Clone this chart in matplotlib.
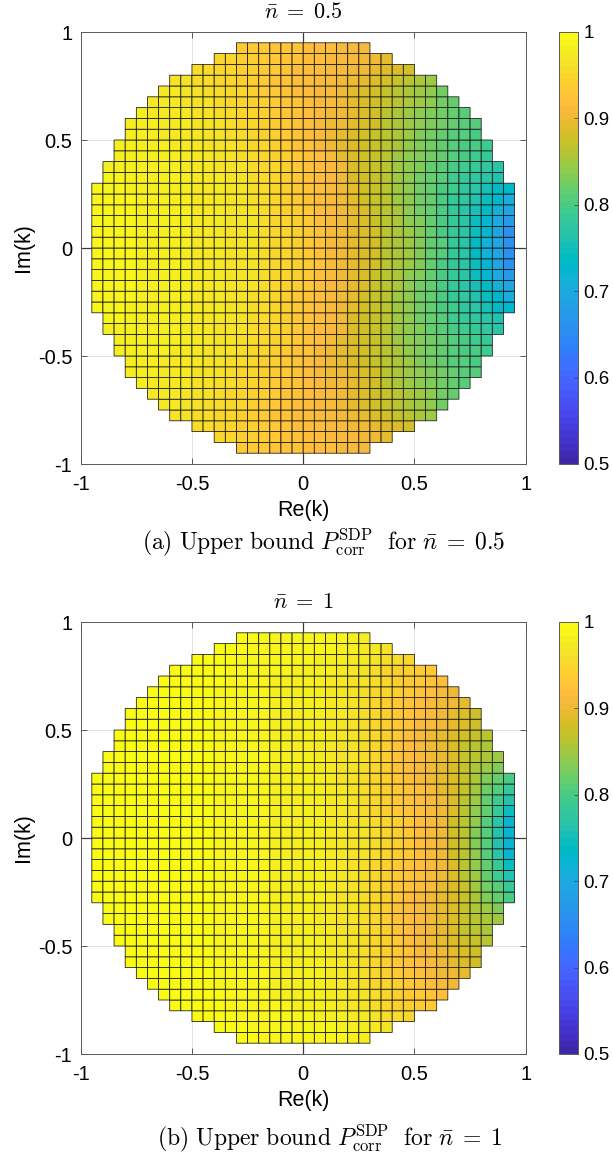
import numpy as np
import matplotlib.pyplot as plt
from matplotlib.colors import ListedColormap

plt.rcParams['font.family'] = ['Liberation Sans', 'DejaVu Sans']
plt.rcParams['mathtext.fontset'] = 'cm'

# cell edges of the Re(k) / Im(k) grid (step 0.05)
k_edges = np.round(np.linspace(-0.95, 0.95, 39), 2)

axis_ticks = [-1, -0.5, 0, 0.5, 1]
axis_ticklabels = ['-1', '-0.5', '0', '0.5', '1']
cbar_ticks = [0.5, 0.6, 0.7, 0.8, 0.9, 1]
cbar_ticklabels = ['0.5', '0.6', '0.7', '0.8', '0.9', '1']

titles = [r'$\bar{n}\;=\;0.5$', r'$\bar{n}\;=\;1$']
captions = [r'$\mathrm{(a)\ Upper\ bound\ }P_{\mathrm{corr}}^{\mathrm{SDP}}\mathrm{\ \ for\ }\bar{n}\;=\;0.5$',
            r'$\mathrm{(b)\ Upper\ bound\ }P_{\mathrm{corr}}^{\mathrm{SDP}}\mathrm{\ \ for\ }\bar{n}\;=\;1$']

# P_corr^SDP per visible cell, in thousandths, left to right.
# rows from Im(k) cell [0.9, 0.95] down to [0, 0.05]; the lower half of the
# picture repeats these rows mirrored about Im(k) = 0
nbar_half_top = [
    "937 934 931 928 925 922 920 918 916 914 912 910",
    "950 947 943 939 934 930 926 922 919 916 914 911 908 905 900 896",
    "958 955 952 948 944 940 935 930 925 921 918 915 912 908 904 899 894 889 883 878",
    "965 962 959 956 952 948 944 939 934 928 923 919 916 913 909 904 899 893 886 878 870 862 855 848",
    "972 969 966 963 959 955 951 947 942 937 931 925 920 916 912 907 901 894 887 878 869 861 853 845 837 828",
    "975 973 970 967 964 961 957 953 949 944 939 933 927 922 917 912 907 900 893 886 877 868 860 852 844 836 828 820",
    "977 976 974 972 969 966 963 959 955 951 946 941 935 929 923 918 912 906 900 892 885 876 867 858 849 840 831 824 818 812",
    "979 978 977 975 973 970 967 964 961 957 953 948 943 937 931 925 919 912 906 899 891 883 875 866 856 847 838 829 821 815 810 805",
    "980 979 978 976 974 972 969 966 963 959 955 950 945 939 933 927 920 913 906 898 890 882 873 864 855 845 835 826 818 812 806 801",
    "982 981 980 979 977 975 973 971 968 965 961 957 952 947 942 936 929 922 914 906 898 890 881 872 863 853 843 833 823 815 809 803 797 791",
    "983 982 981 980 978 977 975 972 970 967 963 959 955 950 944 938 931 923 915 907 898 889 880 871 861 851 841 831 822 814 807 800 794 787",
    "984 984 983 982 981 979 978 976 974 971 968 965 961 957 952 946 940 933 925 916 908 899 889 880 870 860 850 840 829 819 810 801 793 786 777 767",
    "985 985 984 983 982 980 979 977 975 972 969 966 962 958 954 948 942 935 927 918 909 900 890 880 870 860 850 839 828 817 806 796 787 779 771 760",
    "986 986 985 984 983 982 981 979 977 975 973 970 967 963 959 955 950 943 936 928 919 910 900 891 881 871 861 850 839 827 815 803 791 779 767 755 742 728",
    "986 986 986 985 984 983 981 980 978 976 973 971 968 964 960 956 951 944 937 929 920 911 901 891 881 872 862 851 840 827 814 801 788 775 762 749 730 708",
    "987 986 986 985 984 983 982 980 978 976 974 971 968 965 961 957 951 945 938 931 921 912 902 893 883 873 863 852 841 828 815 800 785 769 752 736 715 690",
    "987 986 986 985 984 983 982 980 978 976 974 971 968 965 961 957 952 946 939 932 921 912 903 894 884 874 864 854 843 830 816 801 785 766 746 726 703 675",
    "987 987 986 985 984 983 982 980 978 976 974 971 968 965 961 957 952 946 940 933 922 913 904 895 885 875 865 855 844 831 817 803 787 766 743 720 695 662",
    "987 987 986 985 984 983 982 980 978 976 974 971 968 965 961 957 952 946 940 933 922 913 904 895 885 876 866 856 845 832 819 805 789 766 741 716 689 657",
]

nbar_one_top = [
    "993 993 992 992 991 991 990 989 988 986 983 980",
    "994 993 993 992 991 990 989 988 987 986 985 983 978 975 969 965",
    "995 994 994 993 992 991 990 988 987 986 985 984 982 977 974 970 965 960 955 950",
    "995 995 994 994 993 992 991 990 988 986 985 984 983 981 978 974 969 963 957 951 945 940 935 930",
    "996 995 995 994 993 993 992 990 988 986 984 983 982 981 979 976 972 967 961 955 948 942 936 930 924 918",
    "996 996 995 995 994 993 992 991 989 987 985 983 982 981 980 978 975 971 966 960 953 946 939 932 925 918 912 905",
    "997 996 996 995 995 994 993 992 991 989 987 985 983 981 980 979 977 974 970 965 959 952 945 937 929 921 913 906 899 893",
    "997 997 996 996 995 995 994 993 992 991 989 987 985 983 981 980 979 977 974 970 965 959 952 944 935 926 918 911 904 897 890 882",
    "997 997 996 996 995 995 994 993 992 991 989 987 985 983 981 980 979 977 974 970 964 958 951 942 932 922 914 907 899 891 884 876",
    "997 997 997 996 996 995 995 994 993 992 991 989 987 985 983 981 980 979 977 973 969 964 957 950 940 930 918 911 903 895 887 879 872 866",
    "997 997 997 996 996 995 995 994 993 992 991 989 987 985 983 981 980 979 976 972 967 962 956 949 939 928 917 910 902 893 883 874 866 858",
    "997 997 997 997 996 996 995 995 994 993 992 991 989 987 985 983 981 980 979 976 972 967 962 955 948 938 927 917 911 903 894 884 873 862 853 846",
    "997 997 997 997 996 996 995 995 994 993 992 991 989 987 985 983 981 980 979 976 972 967 962 956 948 939 929 918 912 904 895 884 871 857 845 832",
    "997 997 997 997 997 996 996 995 995 994 993 992 991 989 987 985 983 982 981 979 977 973 968 963 957 950 941 932 921 914 906 897 885 870 852 832 815 800",
    "997 997 997 997 997 996 996 995 995 994 993 992 991 989 987 985 983 982 981 979 977 974 969 964 958 951 943 935 924 915 907 898 885 868 848 826 806 784",
    "997 997 997 997 997 996 996 995 995 994 993 992 991 989 987 985 983 982 981 979 977 974 970 965 959 952 944 936 926 916 908 899 884 866 844 820 792 760",
    "997 997 997 997 997 996 996 995 995 994 993 992 991 989 987 985 983 982 981 980 978 975 971 966 960 953 945 937 928 917 909 899 883 864 840 815 782 745",
    "997 997 997 997 997 996 996 995 995 994 993 992 991 989 987 985 983 982 981 980 978 975 971 967 962 956 950 943 932 918 910 900 882 862 837 808 770 726",
    "997 997 997 997 997 996 996 995 995 994 993 992 991 989 987 985 983 982 981 980 978 975 971 967 962 957 951 944 932 918 910 900 881 860 835 805 765 720",
]

# MATLAB parula, 64 levels
parula = ListedColormap([
    [0.2422, 0.1504, 0.6603], [0.2504, 0.1650, 0.7076], [0.2578, 0.1818, 0.7511], [0.2647, 0.1978, 0.7952],
    [0.2706, 0.2147, 0.8364], [0.2751, 0.2342, 0.8710], [0.2783, 0.2559, 0.8991], [0.2803, 0.2782, 0.9221],
    [0.2813, 0.3006, 0.9414], [0.2810, 0.3228, 0.9579], [0.2795, 0.3447, 0.9717], [0.2760, 0.3667, 0.9829],
    [0.2699, 0.3892, 0.9906], [0.2602, 0.4123, 0.9952], [0.2440, 0.4358, 0.9988], [0.2206, 0.4603, 0.9973],
    [0.1963, 0.4847, 0.9892], [0.1834, 0.5074, 0.9798], [0.1786, 0.5289, 0.9682], [0.1764, 0.5499, 0.9520],
    [0.1687, 0.5703, 0.9359], [0.1540, 0.5902, 0.9218], [0.1460, 0.6091, 0.9079], [0.1380, 0.6276, 0.8973],
    [0.1248, 0.6459, 0.8883], [0.1113, 0.6635, 0.8763], [0.0952, 0.6798, 0.8598], [0.0689, 0.6948, 0.8394],
    [0.0297, 0.7082, 0.8163], [0.0036, 0.7203, 0.7917], [0.0067, 0.7312, 0.7660], [0.0433, 0.7411, 0.7394],
    [0.0964, 0.7500, 0.7120], [0.1408, 0.7584, 0.6842], [0.1717, 0.7670, 0.6554], [0.1938, 0.7758, 0.6251],
    [0.2161, 0.7843, 0.5923], [0.2470, 0.7918, 0.5567], [0.2906, 0.7973, 0.5188], [0.3406, 0.8008, 0.4789],
    [0.3909, 0.8029, 0.4354], [0.4456, 0.8024, 0.3909], [0.5044, 0.7993, 0.3480], [0.5616, 0.7942, 0.3045],
    [0.6174, 0.7876, 0.2612], [0.6720, 0.7793, 0.2227], [0.7242, 0.7698, 0.1910], [0.7738, 0.7598, 0.1646],
    [0.8203, 0.7498, 0.1535], [0.8634, 0.7406, 0.1596], [0.9035, 0.7330, 0.1774], [0.9393, 0.7288, 0.2100],
    [0.9728, 0.7298, 0.2394], [0.9956, 0.7434, 0.2371], [0.9970, 0.7659, 0.2199], [0.9952, 0.7893, 0.2028],
    [0.9892, 0.8136, 0.1885], [0.9786, 0.8386, 0.1766], [0.9676, 0.8639, 0.1643], [0.9610, 0.8890, 0.1537],
    [0.9597, 0.9135, 0.1423], [0.9628, 0.9373, 0.1265], [0.9691, 0.9606, 0.1064], [0.9769, 0.9839, 0.0805],
])


def cell_grid(rows_top):
    rows = rows_top + rows_top[::-1]
    n = len(k_edges) - 1
    vals = np.ma.masked_all((n, n))
    for i, row in enumerate(rows):
        j = n - 1 - i
        ym = max(abs(k_edges[j]), abs(k_edges[j + 1]))
        # a cell is shown when all four corners lie inside |k| <= 1
        cols = [c for c in range(n)
                if max(abs(k_edges[c]), abs(k_edges[c + 1])) ** 2 + ym ** 2 <= 1 + 1e-9]
        v = np.array(row.split(), float) / 1000
        assert len(v) == len(cols), (i, len(v), len(cols))
        vals[j, cols] = v
    return vals


W, H = 613, 1164
fig = plt.figure(figsize=(W / 100, H / 100), dpi=100)
X, Y = np.meshgrid(k_edges, k_edges)

for p, rows in enumerate([nbar_half_top, nbar_one_top]):
    top = 32 + 590 * p
    ax = fig.add_axes([80.7 / W, 1 - (top + 432) / H, 445 / W, 432 / H])
    ax.grid(True, color='#e2e2e2', lw=0.7)
    ax.set_axisbelow(True)
    ax.axhline(0, color='#3a3a3a', lw=0.9, zorder=0.8)
    ax.axvline(0, color='#3a3a3a', lw=0.9, zorder=0.8)
    m = ax.pcolor(X, Y, cell_grid(rows), cmap=parula, vmin=0.5, vmax=1,
                  edgecolors='#151515', linewidth=0.55)
    ax.set_xlim(-1, 1)
    ax.set_ylim(-1, 1)
    ax.set_xticks(axis_ticks)
    ax.set_xticklabels(axis_ticklabels)
    ax.set_yticks(axis_ticks)
    ax.set_yticklabels(axis_ticklabels)
    ax.tick_params(direction='in', length=4, width=0.6, color='#444444',
                   top=True, right=True, labelsize=14.5)
    ax.tick_params(axis='x', pad=8)
    ax.tick_params(axis='y', pad=6)
    for s in ax.spines.values():
        s.set_color('#5a5a5a')
        s.set_linewidth(0.7)
    ax.set_xlabel('Re(k)', fontsize=15.5, labelpad=4)
    ax.set_ylabel('Im(k)', fontsize=15.5, labelpad=3)

    cax = fig.add_axes([559 / W, 1 - (top + 432) / H, 19 / W, 432 / H])
    cb = fig.colorbar(m, cax=cax, ticks=cbar_ticks)
    cb.ax.set_yticklabels(cbar_ticklabels)
    cb.outline.set_edgecolor('#5a5a5a')
    cb.outline.set_linewidth(0.7)
    cax.tick_params(direction='in', length=3, width=0.6, color='#444444',
                    labelsize=13.5, pad=4)

    fig.text(303 / W, 1 - (top - 20) / H, titles[p], ha='center', va='center', fontsize=16)
    fig.text((324 + 6 * p) / W, 1 - (top + 510 + 6 * p) / H, captions[p], ha='center', va='center',
             fontsize=17)

fig.savefig('out.png', dpi=100)
